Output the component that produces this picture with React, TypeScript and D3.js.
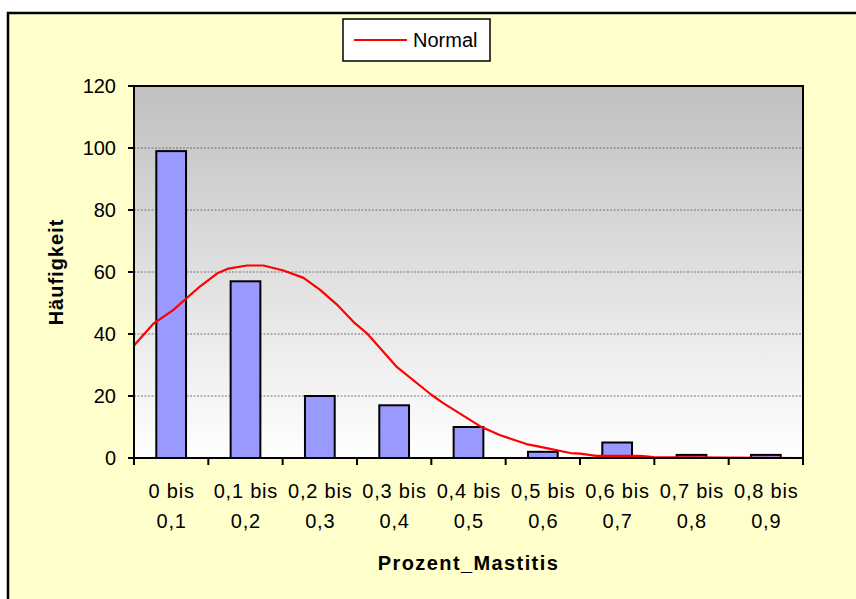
import React, { useRef, useEffect } from 'react';
import * as d3 from 'd3';

// bins of Prozent_Mastitis (two-line tick labels)
const binFrom = ['0 bis', '0,1 bis', '0,2 bis', '0,3 bis', '0,4 bis', '0,5 bis', '0,6 bis', '0,7 bis', '0,8 bis'];
const binTo = ['0,1', '0,2', '0,3', '0,4', '0,5', '0,6', '0,7', '0,8', '0,9'];
const counts = [99, 57, 20, 17, 10, 2, 5, 1, 1];
const binEdges = [0, 0.1, 0.2, 0.3, 0.4, 0.5, 0.6, 0.7, 0.8, 0.9];
const yTicks = [0, 20, 40, 60, 80, 100, 120];

// "Normal" curve
const normalX = [0, 0.026, 0.053, 0.089, 0.113, 0.127, 0.152, 0.174, 0.201, 0.228, 0.25, 0.273, 0.297, 0.313, 0.353, 0.4, 0.416, 0.466, 0.492, 0.528, 0.555, 0.587, 0.6, 0.622, 0.681, 0.699, 0.9];
const normalY = [36.3, 43.3, 47.8, 55.4, 59.7, 61.1, 62.1, 62.1, 60.5, 58.1, 54.3, 49.5, 43.5, 40.3, 29.5, 20.4, 17.7, 10.2, 7.4, 4.5, 3.2, 1.6, 1.4, 0.7, 0.7, 0.3, 0];

const W = 856;
const H = 599;
const plot = { left: 134, top: 86, right: 803, bottom: 458 };
const FONT = '"Liberation Sans", Arial, sans-serif';

export default function App() {
    const svgRef = useRef<SVGSVGElement>(null);

    useEffect(() => {
        if (!svgRef.current) return;
        const svg = d3.select(svgRef.current);
        svg.selectAll('*').remove();

        const cats = binFrom.map((f, i) => f + '|' + binTo[i]);
        const x = d3.scaleBand<string>().domain(cats).range([plot.left, plot.right]).paddingInner(0.6).paddingOuter(0.3);
        const xLin = d3.scaleLinear().domain([0, 0.9]).range([plot.left, plot.right]);
        const y = d3.scaleLinear().domain([0, 120]).range([plot.bottom, plot.top]);

        const defs = svg.append('defs');
        const grad = defs.append('linearGradient').attr('id', 'plotBg').attr('x1', 0).attr('y1', 0).attr('x2', 0).attr('y2', 1);
        grad.append('stop').attr('offset', '0%').attr('stop-color', '#c0c0c0');
        grad.append('stop').attr('offset', '100%').attr('stop-color', '#ffffff');

        // outer chart area (cropped on the right and bottom)
        svg.append('rect').attr('x', 0).attr('y', 0).attr('width', W).attr('height', H).attr('fill', '#ffffff');
        svg.append('rect')
            .attr('x', 8).attr('y', 13).attr('width', W + 20).attr('height', H + 20)
            .attr('fill', '#ffffcc').attr('stroke', '#000').attr('stroke-width', 2.5);

        // plot background
        svg.append('rect')
            .attr('x', plot.left).attr('y', plot.top)
            .attr('width', plot.right - plot.left).attr('height', plot.bottom - plot.top)
            .attr('fill', 'url(#plotBg)');

        // gridlines
        svg.selectAll('.grid')
            .data(yTicks.filter(t => t > 0 && t < 120)).enter().append('line')
            .attr('x1', plot.left).attr('x2', plot.right)
            .attr('y1', d => y(d)).attr('y2', d => y(d))
            .attr('stroke', '#555').attr('stroke-width', 0.8).attr('stroke-dasharray', '2,1.5');

        // bars
        svg.selectAll('.bar')
            .data(counts).enter().append('rect')
            .attr('x', (d, i) => x(cats[i])!)
            .attr('y', d => y(d))
            .attr('width', x.bandwidth())
            .attr('height', d => y(0) - y(d))
            .attr('fill', '#9999ff').attr('stroke', '#000').attr('stroke-width', 2);

        // normal curve
        const line = d3.line<number>()
            .x((d, i) => xLin(normalX[i]))
            .y(d => y(d));
        svg.append('path').datum(normalY)
            .attr('d', line)
            .attr('fill', 'none').attr('stroke', '#ff0000').attr('stroke-width', 2.2)
            .attr('stroke-linejoin', 'round');

        // plot frame
        svg.append('rect')
            .attr('x', plot.left).attr('y', plot.top)
            .attr('width', plot.right - plot.left).attr('height', plot.bottom - plot.top)
            .attr('fill', 'none').attr('stroke', '#000').attr('stroke-width', 2);

        // y axis ticks and labels
        yTicks.forEach(t => {
            svg.append('line')
                .attr('x1', plot.left - 6).attr('x2', plot.left)
                .attr('y1', y(t)).attr('y2', y(t))
                .attr('stroke', '#000').attr('stroke-width', 2);
            svg.append('text')
                .attr('x', plot.left - 18).attr('y', y(t))
                .attr('dy', '0.35em')
                .attr('text-anchor', 'end')
                .attr('font-family', FONT).attr('font-size', 20)
                .text(t);
        });

        // x axis ticks at bin edges
        binEdges.forEach(e => {
            svg.append('line')
                .attr('x1', xLin(e)).attr('x2', xLin(e))
                .attr('y1', plot.bottom).attr('y2', plot.bottom + 7)
                .attr('stroke', '#000').attr('stroke-width', 2);
        });

        // x labels
        cats.forEach((c, i) => {
            const cx = x(c)! + x.bandwidth() / 2;
            svg.append('text')
                .attr('x', cx + 0.4).attr('y', 498)
                .attr('text-anchor', 'middle')
                .attr('font-family', FONT).attr('font-size', 20)
                .attr('letter-spacing', 0.8)
                .text(binFrom[i]);
            svg.append('text')
                .attr('x', cx + 0.4).attr('y', 528)
                .attr('text-anchor', 'middle')
                .attr('font-family', FONT).attr('font-size', 20)
                .attr('letter-spacing', 0.8)
                .text(binTo[i]);
        });

        // axis titles
        svg.append('text')
            .attr('x', (plot.left + plot.right) / 2).attr('y', 570)
            .attr('text-anchor', 'middle')
            .attr('font-family', FONT).attr('font-size', 20).attr('font-weight', 'bold')
            .attr('letter-spacing', 1.4)
            .text('Prozent_Mastitis');
        svg.append('text')
            .attr('transform', `translate(63,${(plot.top + plot.bottom) / 2}) rotate(-90)`)
            .attr('text-anchor', 'middle')
            .attr('font-family', FONT).attr('font-size', 20).attr('font-weight', 'bold')
            .attr('letter-spacing', 1)
            .text('Häufigkeit');

        // legend
        const lg = svg.append('g');
        lg.append('rect')
            .attr('x', 343).attr('y', 19).attr('width', 147).attr('height', 42)
            .attr('fill', '#fff').attr('stroke', '#000').attr('stroke-width', 1.5);
        lg.append('line')
            .attr('x1', 354).attr('x2', 407).attr('y1', 40).attr('y2', 40)
            .attr('stroke', '#ff0000').attr('stroke-width', 2);
        lg.append('text')
            .attr('x', 413).attr('y', 40).attr('dy', '0.35em')
            .attr('font-family', FONT).attr('font-size', 20)
            .text('Normal');
    }, []);

    return (
        <svg
            ref={svgRef}
            width={W}
            height={H}
            style={{ position: 'absolute', left: 0, top: 0, display: 'block' }}
        />
    );
}
